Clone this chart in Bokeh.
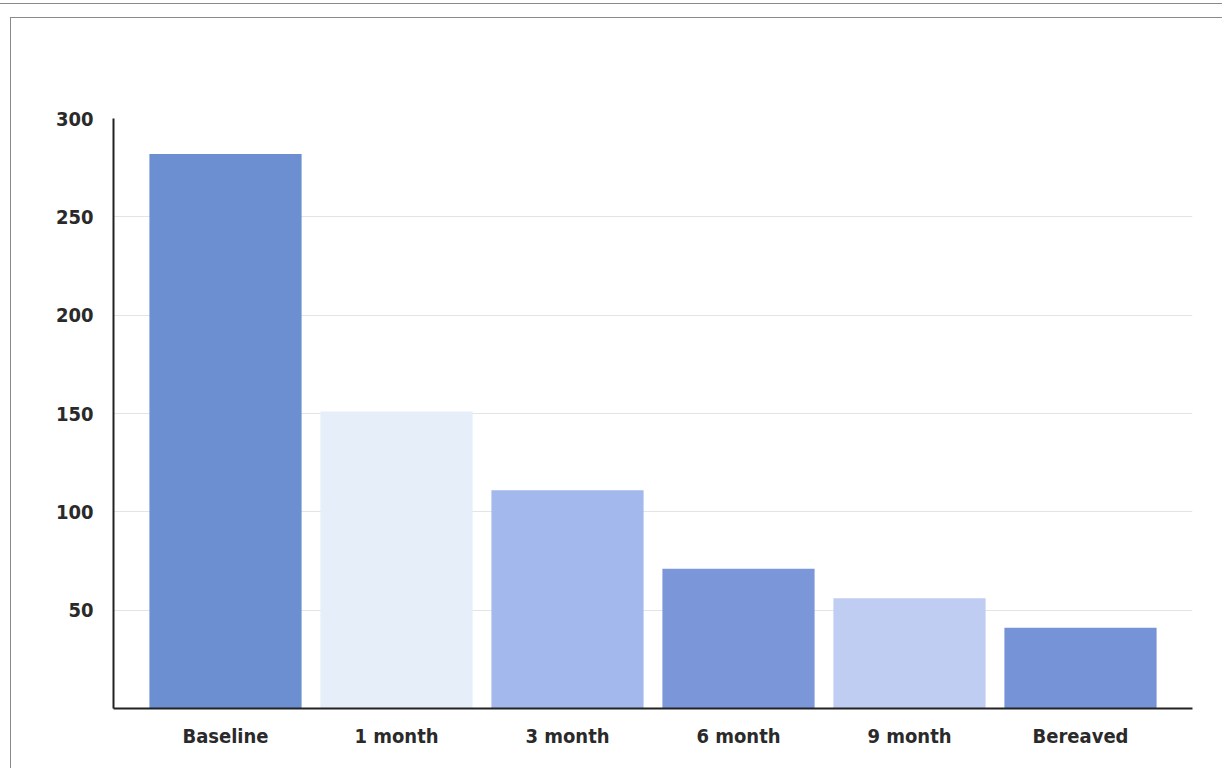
from bokeh.plotting import figure
from bokeh.models import FactorRange, Range1d, FixedTicker, ColumnDataSource
from bokeh.embed import file_html
from bokeh.resources import INLINE

categories = ["Baseline", "1 month", "3 month", "6 month", "9 month", "Bereaved"]
values = [282, 151, 111, 71, 56, 41]
colors = ["#6b8fd0", "#e6eefa", "#a3b8ec", "#7b97da", "#bfcdf2", "#7693d7"]
y_ticks = [50, 100, 150, 200, 250, 300]

FONT = "DejaVu Sans Condensed"

src = ColumnDataSource(dict(cat=categories, val=values, col=colors))

p = figure(
    x_range=FactorRange(factors=categories, range_padding=0.155, range_padding_units="absolute"),
    y_range=Range1d(0, 300),
    frame_width=1079, frame_height=590,
    min_border_left=113, min_border_right=30, min_border_top=118, min_border_bottom=60,
    output_backend="svg", toolbar_location=None,
)
p.vbar(x="cat", top="val", bottom=0, width=0.89, fill_color="col", line_color=None, source=src)

p.background_fill_color = "white"
p.border_fill_color = None
p.outline_line_color = None

p.xgrid.grid_line_color = None
p.ygrid.grid_line_color = "#e2e4e6"
p.ygrid.grid_line_width = 1
p.ygrid.ticker = FixedTicker(ticks=y_ticks)

p.yaxis.ticker = FixedTicker(ticks=y_ticks)
for ax in (p.xaxis[0], p.yaxis[0]):
    ax.axis_line_color = "#222222"
    ax.axis_line_width = 2
    ax.major_tick_line_color = None
    ax.minor_tick_line_color = None
    ax.major_label_text_font = FONT
    ax.major_label_text_font_style = "bold"
    ax.major_label_text_font_size = "20px"
    ax.major_label_text_color = "#2a2a2a"
p.yaxis.major_label_standoff = 14
p.xaxis.major_label_standoff = 9

line = "linear-gradient(#8a8a8a, #8a8a8a)"
p.styles = {
    "background-color": "white",
    "background-image": f"{line}, {line}, {line}",
    "background-size": "100% 1px, calc(100% - 10px) 1px, 1px calc(100% - 17px)",
    "background-position": "0px 3px, 10px 17px, 10px 17px",
    "background-repeat": "no-repeat",
}

open("out.html", "w").write(file_html(p, INLINE))
